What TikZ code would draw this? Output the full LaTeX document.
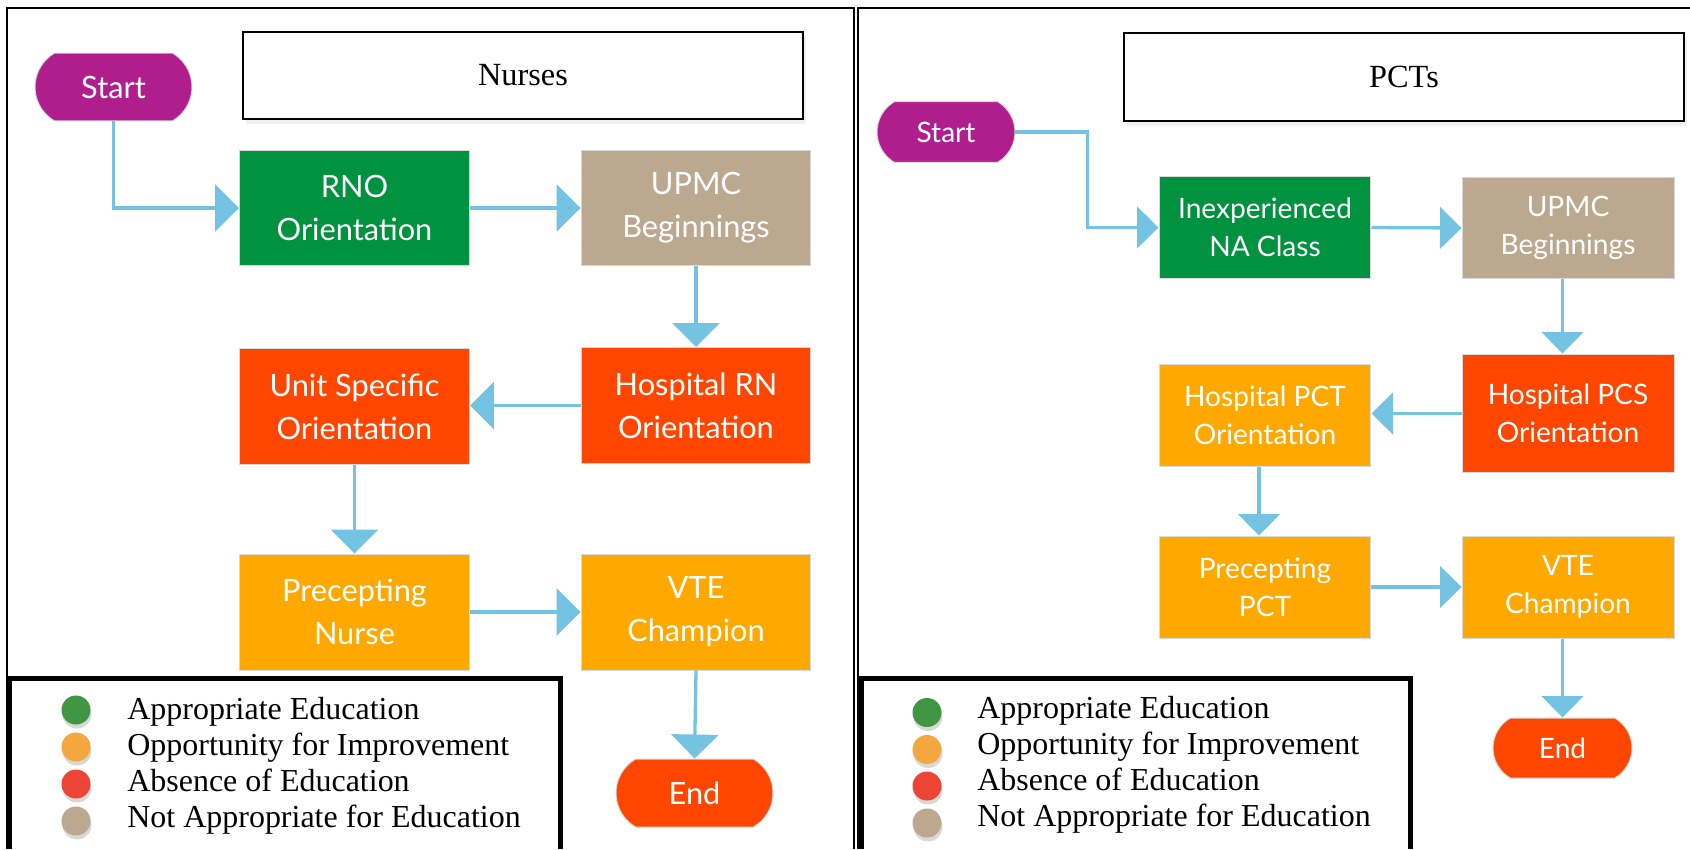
\documentclass[tikz,border=0pt]{standalone}
\usepackage{fontspec}
\setmainfont{Liberation Serif}
\newfontfamily\latofont{Lato}
\usetikzlibrary{arrows.meta,shapes.misc,shadows}

\definecolor{startpink}{RGB}{175,30,140}
\definecolor{goodgreen}{RGB}{0,146,63}
\definecolor{beige}{RGB}{187,168,143}
\definecolor{redorange}{RGB}{255,70,0}
\definecolor{amber}{RGB}{255,168,0}
\definecolor{flowblue}{RGB}{116,195,226}
\definecolor{dotgreen}{RGB}{64,150,66}
\definecolor{dotorange}{RGB}{244,167,63}
\definecolor{dotred}{RGB}{236,68,53}
\definecolor{dottan}{RGB}{187,168,143}

\tikzset{
  stepbox/.style={rectangle, draw=black!15, line width=0.02cm, text=white, align=center,
    inner sep=0pt, minimum width=4.6cm, minimum height=2.32cm,
    font=\latofont\fontsize{17.5}{24.5}\selectfont},
  smallbox/.style={stepbox, minimum width=4.24cm, minimum height=2.04cm,
    font=\latofont\fontsize{16}{21.6}\selectfont},
  terminal/.style={rounded rectangle, rounded rectangle arc length=120, draw=black!15,
    line width=0.02cm, text=white, inner sep=0pt, minimum width=3.14cm, minimum height=1.36cm,
    font=\latofont\fontsize{17.5}{20}\selectfont},
  titlebox/.style={rectangle, draw=black, line width=0.04cm, fill=white, minimum width=11.2cm,
    minimum height=1.75cm, font=\fontsize{18.4}{20}\selectfont,
    drop shadow={opacity=0.12, shadow xshift=0.06cm, shadow yshift=-0.1cm}},
  flow/.style={draw=flowblue, line width=0.066cm, -{Triangle[length=0.48cm,width=0.94cm]}},
  flowsmall/.style={flow, -{Triangle[length=0.43cm,width=0.83cm]}},
  legdot/.style={circle, inner sep=0pt, minimum size=0.58cm,
    drop shadow={opacity=0.3, shadow xshift=0.02cm, shadow yshift=-0.08cm}},
  legtext/.style={anchor=base west, inner sep=0pt, font=\fontsize{18.2}{20}\selectfont}
}

\begin{document}
\begin{tikzpicture}[x=0.02cm,y=-0.02cm]
\useasboundingbox (0,0) rectangle (1690,849);

% frames
\draw[line width=0.04cm] (7,849) -- (7,7.5) -- (854,7.5) -- (854,849);
\draw[line width=0.04cm] (857.5,849) -- (857.5,7.5) -- (1690,7.5);

% nurses
\node[titlebox] (nursetitle) at (523,75.5) {Nurses};
\node[terminal, fill=startpink] (startL) at (113.5,87) {Start};
\node[stepbox, fill=goodgreen] (rno) at (354.5,208) {RNO\\Orientation};
\node[stepbox, fill=beige] (upmcL) at (696,208) {UPMC\\Beginnings};
\node[stepbox, fill=redorange] (hosprn) at (696,405.5) {Hospital RN\\Orientation};
\node[stepbox, fill=redorange] (unitspec) at (354.5,406.5) {Unit Specific\\Orientation};
\node[stepbox, fill=amber] (precnurse) at (354.5,612) {Precepting\\Nurse};
\node[stepbox, fill=amber] (vteL) at (696,612) {VTE\\Champion};
\node[terminal, fill=redorange] (endL) at (694.5,793) {End};

\draw[flow] (startL.south) |- (rno.west);
\draw[flow] (rno.east) -- (upmcL.west);
\draw[flow] (upmcL.south) -- (hosprn.north);
\draw[flow] (hosprn.west) -- (unitspec.east |- hosprn.west);
\draw[flow] (unitspec.south) -- (precnurse.north);
\draw[flow] (precnurse.east) -- (vteL.west);
\draw[flow] (vteL.south) -- (endL.north);

% PCTs
\node[titlebox] (pcttitle) at (1404,77) {PCTs};
\node[terminal, fill=startpink, minimum width=2.76cm, minimum height=1.22cm,
  font=\latofont\fontsize{16}{20}\selectfont] (startR) at (946,132) {Start};
\node[smallbox, fill=goodgreen] (inexp) at (1265,227.5) {Inexperienced\\NA Class};
\node[smallbox, fill=beige] (upmcR) at (1568,228) {UPMC\\Beginnings};
\node[smallbox, fill=redorange, minimum height=2.38cm] (hosppcs) at (1568,413.5) {Hospital PCS\\Orientation};
\node[smallbox, fill=amber] (hosppct) at (1265,415.5) {Hospital PCT\\Orientation};
\node[smallbox, fill=amber] (precpct) at (1265,587) {Precepting\\PCT};
\node[smallbox, fill=amber] (vteR) at (1568,587) {VTE\\Champion};
\node[terminal, fill=redorange, minimum width=2.78cm, minimum height=1.2cm,
  font=\latofont\fontsize{16}{20}\selectfont] (endR) at (1562.5,748) {End};

\draw[flowsmall] (startR.east) -- ++(72,0) |- (inexp.west);
\draw[flowsmall] (inexp.east) -- (upmcR.west);
\draw[flowsmall] (upmcR.south -| endR.north) -- (hosppcs.north -| endR.north);
\draw[flowsmall] (hosppcs.west) -- (hosppct.east |- hosppcs.west);
\draw[flowsmall] ([xshift=-0.12cm]hosppct.south) -- ([xshift=-0.12cm]precpct.north);
\draw[flowsmall] (precpct.east) -- (vteR.west);
\draw[flowsmall] (vteR.south -| endR.north) -- (endR.north);

% legends
\draw[line width=0.1cm, fill=white] (10,849) -- (10,678) -- (560,678) -- (560,849);
\node[legdot, fill=dotgreen] (greenL) at (76,710) {};
\node[legdot, fill=dotorange] (orangeL) at (76,747) {};
\node[legdot, fill=dotred] (redL) at (76,784) {};
\node[legdot, fill=dottan] (tanL) at (76,821) {};
\node[legtext] (apprL) at (127,719) {Appropriate Education};
\node[legtext] (opporL) at (127,755) {Opportunity for Improvement};
\node[legtext] (absL) at (127,791) {Absence of Education};
\node[legtext] (notL) at (127,827) {Not Appropriate for Education};

\draw[line width=0.1cm, fill=white] (861,849) -- (861,678) -- (1410,678) -- (1410,849);
\node[legdot, fill=dotgreen] (greenR) at (927,712.5) {};
\node[legdot, fill=dotorange] (orangeR) at (927,749.5) {};
\node[legdot, fill=dotred] (redR) at (927,786) {};
\node[legdot, fill=dottan] (tanR) at (927,823) {};
\node[legtext] (apprR) at (977,718) {Appropriate Education};
\node[legtext] (opporR) at (977,754) {Opportunity for Improvement};
\node[legtext] (absR) at (977,790) {Absence of Education};
\node[legtext] (notR) at (977,826) {Not Appropriate for Education};
\end{tikzpicture}
\end{document}
